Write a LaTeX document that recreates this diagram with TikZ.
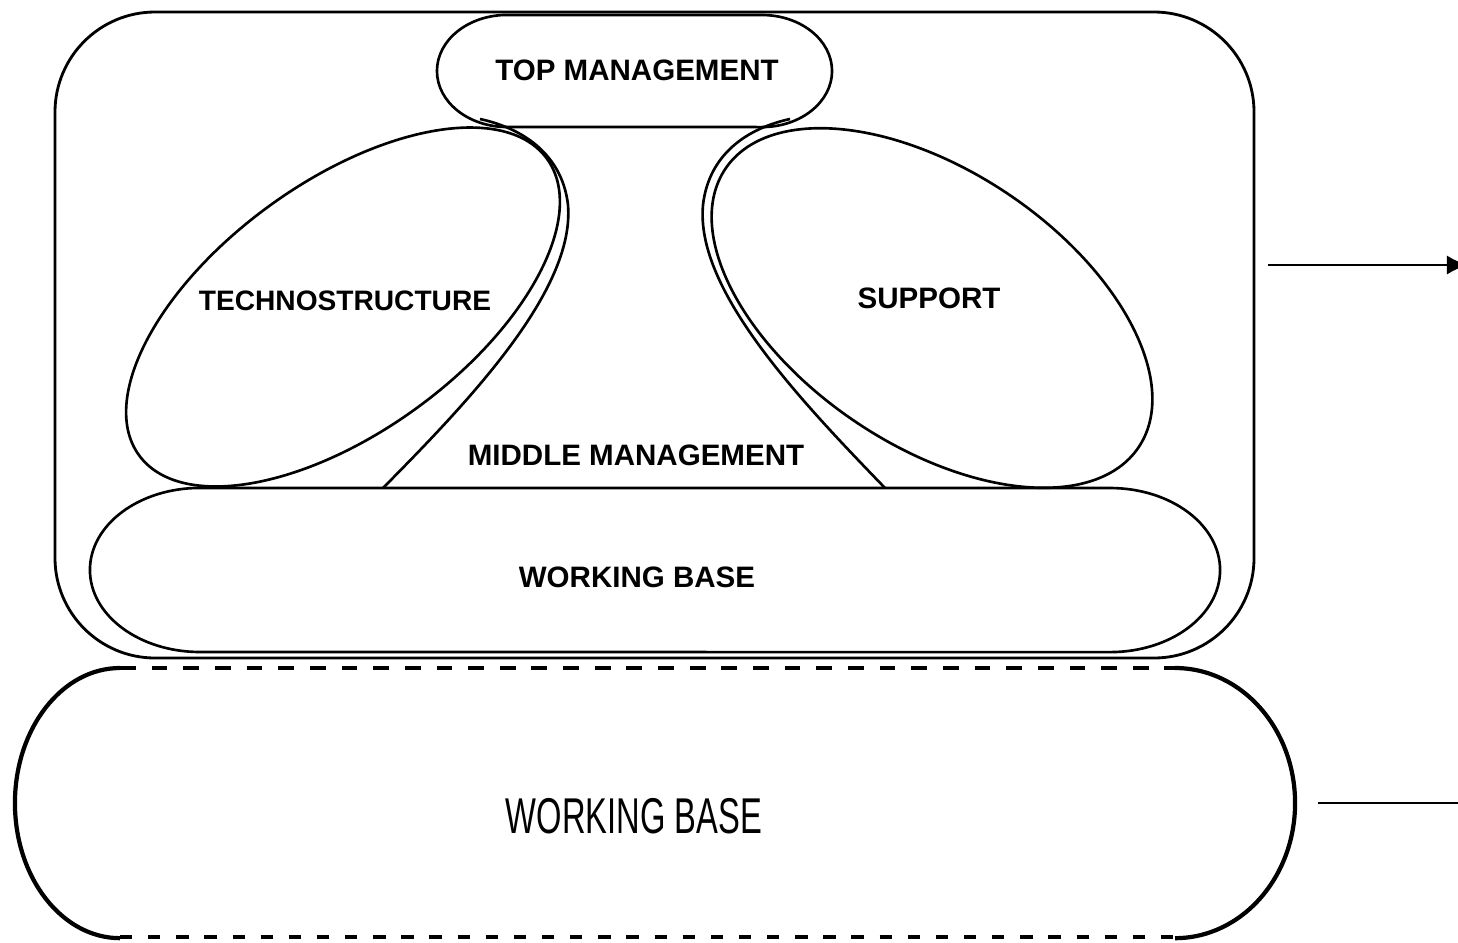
\documentclass[tikz,border=0pt]{standalone}
\usepackage{fontspec}
\setmainfont{Liberation Sans}
\usepackage{graphicx}
\usepackage{tikz}
\usetikzlibrary{arrows.meta}

\tikzset{lbl/.style={inner sep=0pt, font=\fontsize{8.4}{10}\selectfont\bfseries},
  shp/.style={line width=0.75pt}}

\begin{document}
\begin{tikzpicture}[x=0.01cm,y=0.01cm]
\useasboundingbox (0,0) rectangle (1458,-942);

\draw[thick, rounded corners=1cm] (55,-12) rectangle (1254,-658);

\draw[shp] (507,-15) -- (762,-15) arc[start angle=90,end angle=-90,x radius=0.7cm,y radius=0.56cm]
  -- (507,-127) arc[start angle=270,end angle=90,x radius=0.7cm,y radius=0.56cm] -- cycle;
\node[lbl] (top) at (637,-70) {TOP MANAGEMENT};

\draw[shp, rotate around={36:(343,-307)}] (343,-307) ellipse [x radius=2.52cm, y radius=1.25cm];
\node[lbl, font=\fontsize{8}{10}\selectfont\bfseries] (techno) at (345,-301) {TECHNOSTRUCTURE};

\draw[shp, rotate around={-34:(932,-308)}] (932,-308) ellipse [x radius=2.49cm, y radius=1.37cm];
\node[lbl] (support) at (929,-298) {SUPPORT};

\draw[shp] (383,-488) .. controls (470,-400) and (575,-290) .. (568,-205)
  .. controls (563,-160) and (530,-130) .. (480,-119);
\draw[shp] (885,-488) .. controls (800,-400) and (695,-290) .. (703,-205)
  .. controls (708,-160) and (740,-130) .. (790,-119);
\node[lbl] (middle) at (636,-455) {MIDDLE MANAGEMENT};

\draw[shp] (200,-488) -- (1110,-488) arc[start angle=90,end angle=-90,x radius=1.1cm,y radius=0.82cm]
  -- (200,-652) arc[start angle=270,end angle=90,x radius=1.1cm,y radius=0.82cm] -- cycle;
\node[lbl] (base) at (637,-577) {WORKING BASE};

\draw[very thick] (120,-668) arc[start angle=90,end angle=270,x radius=1.05cm,y radius=1.35cm];
\draw[very thick] (1175,-668) arc[start angle=90,end angle=-90,x radius=1.2cm,y radius=1.35cm];
\draw[line width=1.4pt, dash pattern=on 4.5pt off 4.5pt] (120,-668) -- (1175,-668);
\draw[very thick, dash pattern=on 3.5pt off 4.5pt] (120,-937) -- (1175,-937);
\node[inner sep=0pt] (bigbase) at (634,-816)
  {\scalebox{0.65}[1]{\fontsize{14.3}{16}\selectfont WORKING BASE}};

\coordinate (outA) at (1268,-265);
\coordinate (outAend) at (1468,-265);
\draw[thick,-{Latex[length=6pt,width=5.5pt]}] (outA) -- (outAend);

\coordinate (outB) at (1318,-803);
\coordinate (outBend) at (1470,-803);
\draw[thick] (outB) -- (outBend);
\end{tikzpicture}
\end{document}
